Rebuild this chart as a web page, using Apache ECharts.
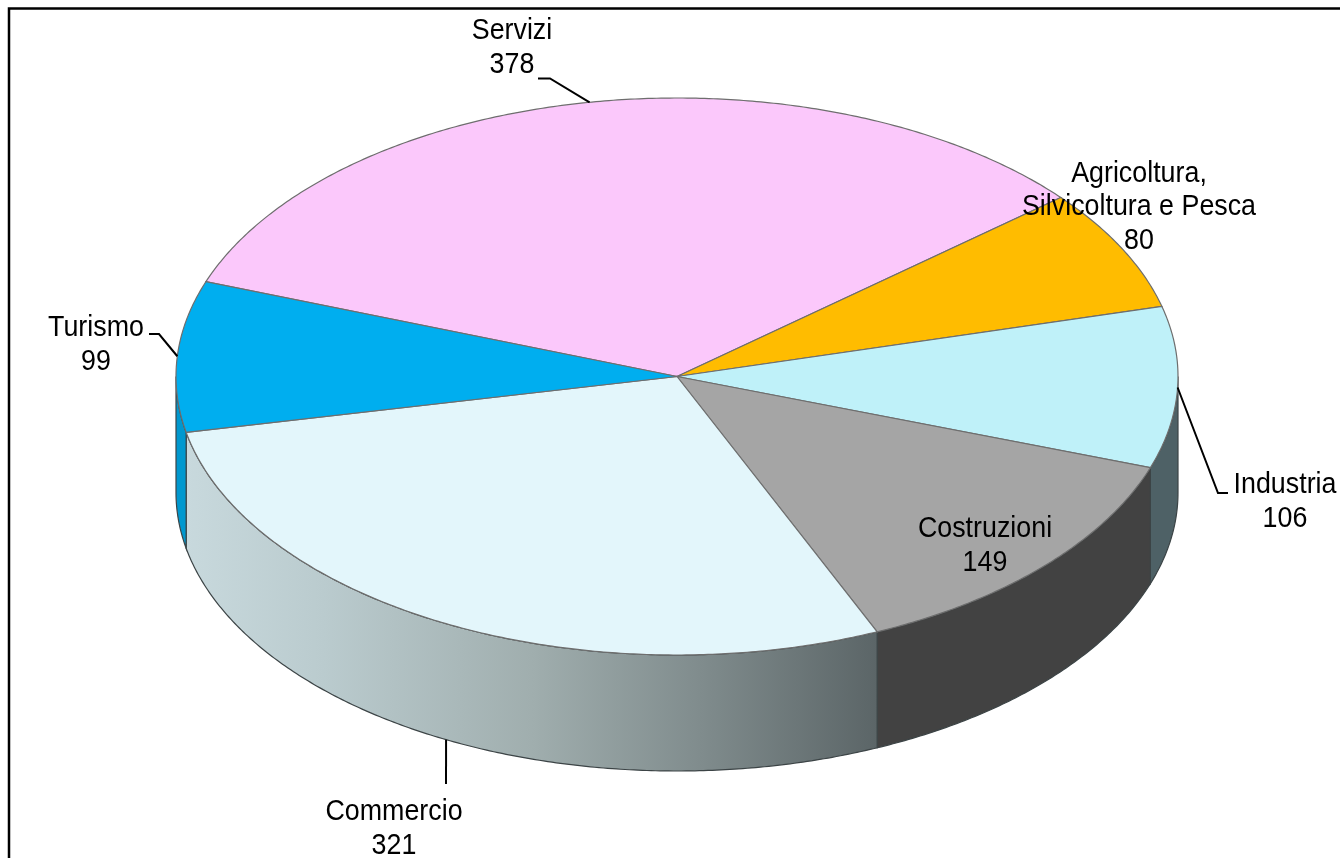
<!DOCTYPE html>
<html><head><meta charset="utf-8">
<style>html,body{margin:0;padding:0;background:#fff}#c{width:1340px;height:858px}</style>
<script src="https://cdn.jsdelivr.net/npm/echarts@6/dist/echarts.min.js"></script>
</head><body><div id="c"></div>
<script>
var categories = ['Servizi','Agricoltura,\nSilvicoltura e Pesca','Industria','Costruzioni','Commercio','Turismo'];
var values = [378,80,106,149,321,99];
var topColors = ['#FBC8FB','#FFBC00','#BFF1F9','#A5A5A5','#E3F6FB','#00AEEF'];
var wallFills = [null,null,'#4E6166','#424242','grad','#0098CF'];
var labelPos = [[512,48],[1139,207],[1285,502],[985,546],[394,829],[96,345]];
var leaderElbows = [[[538,78.5],[550,78.5]],null,[[1228,493],[1218,493]],null,[[446,784]],[[149,334],[159,334]]];

var CX=677, CY=376.5, RX=501, RY=278.5, DEPTH=116, START=289.9;
var total=values.reduce(function(a,b){return a+b},0);
var chart=echarts.init(document.getElementById('c'),null,{renderer:'canvas'});
function rad(d){return d*Math.PI/180}
function pt(a,dy){return [CX+RX*Math.sin(rad(a)),CY-RY*Math.cos(rad(a))+(dy||0)]}
function startOf(i){var s=START;for(var k=0;k<i;k++)s+=values[k]/total*360;return s}
function arc(a0,a1,dy){var n=Math.max(2,Math.ceil(Math.abs(a1-a0)/0.5)),o=[];for(var k=0;k<=n;k++)o.push(pt(a0+(a1-a0)*k/n,dy));return o}
var commercioGrad=new echarts.graphic.LinearGradient(0,0,1,0,[
 {offset:0,color:'#C8D9DD'},{offset:0.2,color:'#BACBCE'},{offset:0.5,color:'#A0AEAE'},{offset:0.75,color:'#7F8B8C'},{offset:1,color:'#5B6567'}]);
var STROKE='#6E6E6E';
function wallRender(p,api){
  var i=p.dataIndex,v=api.value(0),a0=startOf(i),a1=a0+v/total*360;
  while(a0>=360){a0-=360;a1-=360}
  var lo=Math.max(a0,90),hi=Math.min(a1,270);
  if(hi<=lo||!wallFills[i])return null;
  var pts=arc(lo,hi,0).concat(arc(hi,lo,DEPTH));
  return {type:'polygon',shape:{points:pts},style:{fill:wallFills[i]==='grad'?commercioGrad:wallFills[i],stroke:'#3C4446',lineWidth:1.2}};
}
function topRender(p,api){
  var i=p.dataIndex,v=api.value(0),a0=startOf(i),a1=a0+v/total*360;
  var pts=[[CX,CY]].concat(arc(a0,a1,0));
  return {type:'polygon',shape:{points:pts},style:{fill:topColors[i],stroke:STROKE,lineWidth:1.2}};
}
function labelRender(p,api){
  var i=p.dataIndex,v=api.value(0),a0=startOf(i),mid=a0+v/total*180,kids=[];
  if(leaderElbows[i]){
    var m=((mid%360)+360)%360;
    var front=m>150&&m<270;
    var line=leaderElbows[i].concat([pt(mid,front?DEPTH:0)]);
    kids.push({type:'polyline',shape:{points:line},style:{fill:null,stroke:'#000',lineWidth:2}});
  }
  kids.push({type:'text',x:labelPos[i][0],y:labelPos[i][1],scaleX:0.925,style:{
    text:categories[i]+'\n'+v,fill:'#000',align:'center',verticalAlign:'middle',
    font:'29px "Liberation Sans", Arial, sans-serif',lineHeight:33.5}});
  return {type:'group',children:kids};
}
var d=values.map(function(v){return [v]});
function layer(r,z){return {type:'custom',coordinateSystem:'none',renderItem:r,data:d,z:z,silent:true,animation:false,clip:false}}
chart.setOption({
  animation:false,backgroundColor:'#fff',
  graphic:[{type:'rect',z:0,shape:{x:9,y:8.5,width:1400,height:900},style:{fill:null,stroke:'#000',lineWidth:2.5}}],
  series:[layer(wallRender,2),layer(topRender,3),layer(labelRender,4)]
});
</script></body></html>
